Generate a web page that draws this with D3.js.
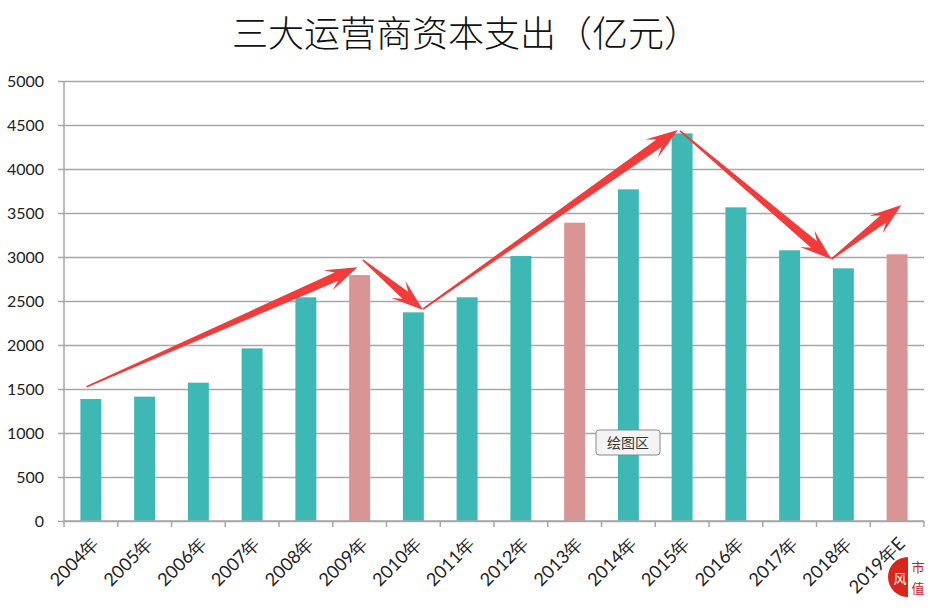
<!DOCTYPE html>
<html>
<head>
<meta charset="utf-8">
<script src="https://cdn.jsdelivr.net/npm/d3@7"></script>
<style>
  body { margin: 0; background: #fff; }
  svg { display: block; }
</style>
</head>
<body>
<svg></svg>
<script>
// data
const years = ["2004年", "2005年", "2006年", "2007年", "2008年", "2009年", "2010年", "2011年",
               "2012年", "2013年", "2014年", "2015年", "2016年", "2017年", "2018年", "2019年E"];
const capex = [1386, 1413, 1572, 1962, 2542, 2795, 2371, 2542,
               3011, 3390, 3769, 4405, 3564, 3076, 2871, 3031];
const highlighted = ["2009年", "2013年", "2019年E"];
const yTicks = [0, 500, 1000, 1500, 2000, 2500, 3000, 3500, 4000, 4500, 5000];

// trend arrows: [category position, value] -> [category position, value]
const arrowFrom = [[-0.08, 1525], [5.06, 2966], [6.18, 2409], [10.96, 4432], [13.78, 2977]];
const arrowTo   = [[4.96, 2883],  [6.18, 2398], [10.92, 4443], [13.78, 2974], [15.08, 3591]];

const svgWidth = 941;
const svgHeight = 609;

const svg = d3.select("svg")
    .attr("width", svgWidth)
    .attr("height", svgHeight);

const margin = {top: 81, right: 17, bottom: 88, left: 64};
const width = svgWidth - margin.left - margin.right;
const height = svgHeight - margin.top - margin.bottom;

const x = d3.scaleBand()
    .domain(years)
    .range([0, width])
    .padding(0);

const y = d3.scaleLinear()
    .domain([0, 5000])
    .range([height, 0]);

// fractional category position -> pixel
const xPos = i => (i + 0.5) * x.step();

const g = svg.append("g")
    .attr("transform", "translate(" + margin.left + "," + margin.top + ")");

// title
svg.append("text")
    .attr("x", 466)
    .attr("y", 47)
    .attr("text-anchor", "middle")
    .style("font-family", "'Noto Sans CJK SC', sans-serif")
    .style("font-size", "36px")
    .style("font-weight", 300)
    .style("fill", "#111")
    .text("三大运营商资本支出（亿元）");

// grid lines + y labels
const yAxis = g.append("g")
    .attr("class", "axis axis--y")
    .call(d3.axisLeft(y).tickValues(yTicks).tickSize(-width - 6).tickPadding(14).tickFormat(d3.format("d")))
    .attr("transform", "translate(-6,0)");
yAxis.select(".domain").remove();
yAxis.selectAll(".tick line")
    .attr("stroke", "#a6a6a6")
    .attr("stroke-width", 1.5)
    .attr("x1", 0)
    .attr("x2", width + 6);
yAxis.selectAll(".tick text")
    .style("font-family", "Lato, 'Open Sans', sans-serif")
    .style("font-size", "16px")
    .style("fill", "#222");

// y axis line
g.append("line")
    .attr("x1", 0).attr("x2", 0)
    .attr("y1", 0).attr("y2", height)
    .attr("stroke", "#a6a6a6")
    .attr("stroke-width", 1.5);

// bars
g.selectAll(".bar")
    .data(years)
    .enter()
    .append("rect")
    .attr("class", "bar")
    .attr("x", (d, i) => x(d) + x.bandwidth() * 0.305)
    .attr("y", (d, i) => y(capex[i]))
    .attr("width", x.bandwidth() * 0.39)
    .attr("height", (d, i) => height - y(capex[i]))
    .attr("fill", d => highlighted.includes(d) ? "#d99594" : "#3db8b5");

// x axis with ticks between categories
const xAxis = g.append("g")
    .attr("class", "axis axis--x")
    .attr("transform", "translate(0," + height + ")");
xAxis.append("line")
    .attr("x1", 0).attr("x2", width)
    .attr("stroke", "#a6a6a6")
    .attr("stroke-width", 1.5);
xAxis.selectAll(".sep")
    .data(d3.range(years.length + 1))
    .enter()
    .append("line")
    .attr("x1", i => i * x.step())
    .attr("x2", i => i * x.step())
    .attr("y1", 0)
    .attr("y2", 6)
    .attr("stroke", "#a6a6a6")
    .attr("stroke-width", 1.5);
xAxis.selectAll(".lbl")
    .data(years)
    .enter()
    .append("text")
    .attr("text-anchor", "end")
    .attr("transform", d => "translate(" + (x(d) + x.bandwidth() / 2 + 9) + ",24) rotate(-45)")
    .style("font-family", "Lato, 'Open Sans', sans-serif")
    .style("font-size", "18px")
    .style("fill", "#222")
    .text(d => d);

// arrows
function arrowPath(a, b) {
    const sx = xPos(a[0]), sy = y(a[1]);
    const ex = xPos(b[0]), ey = y(b[1]);
    const len = Math.hypot(ex - sx, ey - sy);
    const ux = (ex - sx) / len, uy = (ey - sy) / len;
    const nx = -uy, ny = ux;
    const head = Math.min(32, len * 0.45);
    const hw = 11, sw = 4.5;
    const jx = ex - ux * head * 0.72, jy = ey - uy * head * 0.72;
    const bx = ex - ux * head, by = ey - uy * head;
    const pts = [
        [sx + nx * 0.8, sy + ny * 0.8],
        [jx + nx * sw, jy + ny * sw],
        [bx + nx * hw, by + ny * hw],
        [ex, ey],
        [bx - nx * hw, by - ny * hw],
        [jx - nx * sw, jy - ny * sw],
        [sx - nx * 0.8, sy - ny * 0.8]
    ];
    return "M" + pts.map(p => p.join(",")).join("L") + "Z";
}
g.selectAll(".arrow")
    .data(arrowFrom)
    .enter()
    .append("path")
    .attr("class", "arrow")
    .attr("d", (d, i) => arrowPath(d, arrowTo[i]))
    .attr("fill", "#f23b3b");

// "绘图区" hint box
const tip = svg.append("g").attr("transform", "translate(596,430)");
tip.append("rect")
    .attr("width", 64).attr("height", 25).attr("rx", 3)
    .attr("fill", "#f4f4f4").attr("stroke", "#8a8a8a");
tip.append("text")
    .attr("x", 32).attr("y", 18)
    .attr("text-anchor", "middle")
    .style("font-family", "'Noto Sans CJK SC', sans-serif")
    .style("font-size", "14px")
    .style("fill", "#333")
    .text("绘图区");

// corner logo
const logo = svg.append("g").attr("transform", "translate(888,557)");
logo.append("path")
    .attr("d", "M20,0 A20,20 0 0 0 20,40 Z")
    .attr("fill", "#d9261c");
logo.append("text")
    .attr("x", 12).attr("y", 26)
    .attr("text-anchor", "middle")
    .style("font-family", "'Noto Sans CJK SC', sans-serif")
    .style("font-size", "13px")
    .style("fill", "#fff")
    .text("风");
logo.append("text")
    .attr("x", 30).attr("y", 15)
    .attr("text-anchor", "middle")
    .style("font-family", "'Noto Sans CJK SC', sans-serif")
    .style("font-size", "13px")
    .style("fill", "#c0201a")
    .text("市");
logo.append("text")
    .attr("x", 30).attr("y", 36)
    .attr("text-anchor", "middle")
    .style("font-family", "'Noto Sans CJK SC', sans-serif")
    .style("font-size", "13px")
    .style("fill", "#c0201a")
    .text("值");
</script>
</body>
</html>
